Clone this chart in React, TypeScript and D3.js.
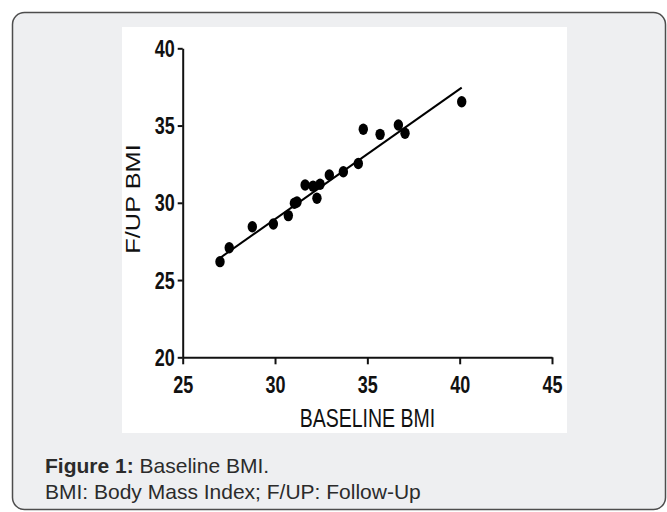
import React, { useEffect, useRef } from 'react';
import * as d3 from 'd3';

// Baseline vs follow-up BMI, one point per subject
const baselineBmi = [27.02, 27.52, 28.77, 29.91, 30.72, 31.05, 31.19, 31.63, 32.06, 32.27, 32.44, 32.94, 33.7, 34.51, 34.78, 35.69, 36.68, 37.04, 40.11];
const followUpBmi = [26.19, 27.09, 28.45, 28.63, 29.17, 29.97, 30.05, 31.15, 31.08, 30.29, 31.2, 31.8, 32.01, 32.54, 34.76, 34.43, 35.04, 34.5, 36.54];
const xTicks = [25, 30, 35, 40, 45];
const yTicks = [20, 25, 30, 35, 40];
// fitted regression line
const fitSlope = 0.842;
const fitIntercept = 3.68;

const xTitle = 'BASELINE BMI';
const yTitle = 'F/UP BMI';
const captionBold = 'Figure 1:';
const captionLine1 = ' Baseline BMI.';
const captionLine2 = 'BMI: Body Mass Index; F/UP: Follow-Up';

const W = 667;
const H = 512;
const STRETCH = 1.3; // the chart image is stretched vertically
const chartFont = '"Liberation Sans", Arial, sans-serif';

export default function App() {
    const svgRef = useRef<SVGSVGElement>(null);

    useEffect(() => {
        const svg = d3.select(svgRef.current);
        svg.selectAll('*').remove();

        // grey caption box
        svg.append('rect')
            .attr('x', 12.5)
            .attr('y', 12.5)
            .attr('width', 653)
            .attr('height', 497)
            .attr('rx', 12)
            .attr('fill', '#eeeff1')
            .attr('stroke', '#4d4d4d')
            .attr('stroke-width', 1.5);

        // white figure area
        svg.append('rect')
            .attr('x', 122)
            .attr('y', 27)
            .attr('width', 445)
            .attr('height', 406)
            .attr('fill', '#ffffff');

        const x = d3.scaleLinear().domain([25, 45]).range([182.7, 552]);
        const y = d3.scaleLinear().domain([20, 40]).range([357.3, 48.3]);

        const g = svg.append('g').style('font-family', chartFont);

        // y axis
        const yAxis = g.append('g')
            .attr('transform', 'translate(' + x(25) + ',0)')
            .call(d3.axisLeft(y).tickValues(yTicks).tickSize(5).tickSizeOuter(0).tickFormat(d3.format('d')));
        yAxis.select('.domain').attr('stroke', '#111').attr('stroke-width', 2);
        yAxis.selectAll('.tick line').attr('stroke', '#111').attr('stroke-width', 2);
        yAxis.selectAll('.tick text')
            .attr('x', -8)
            .attr('y', 0)
            .attr('dy', 0)
            .attr('transform', 'translate(0,8) scale(1,' + STRETCH + ')')
            .attr('fill', '#111')
            .style('font-size', '18px')
            .style('font-weight', 'bold')
            .style('font-family', chartFont);

        // x axis
        const xAxis = g.append('g')
            .attr('transform', 'translate(0,' + y(20) + ')')
            .call(d3.axisBottom(x).tickValues(xTicks).tickSize(7).tickSizeOuter(0).tickFormat(d3.format('d')));
        xAxis.select('.domain').attr('stroke', '#111').attr('stroke-width', 2);
        xAxis.selectAll('.tick line').attr('stroke', '#111').attr('stroke-width', 2);
        xAxis.selectAll('.tick text')
            .attr('y', 0)
            .attr('dy', 0)
            .attr('transform', 'translate(0,36) scale(1,' + STRETCH + ')')
            .attr('fill', '#111')
            .style('font-size', '18px')
            .style('font-weight', 'bold')
            .style('font-family', chartFont);

        // axis titles
        g.append('text')
            .attr('transform', 'translate(' + x(35) + ',427) scale(1,' + STRETCH + ')')
            .attr('text-anchor', 'middle')
            .attr('fill', '#111')
            .style('font-size', '19.5px')
            .text(xTitle);

        g.append('text')
            .attr('transform', 'translate(140,199) scale(1,' + STRETCH + ') rotate(-90)')
            .attr('text-anchor', 'middle')
            .attr('fill', '#111')
            .style('font-size', '19.5px')
            .text(yTitle);

        // regression line across the data range
        const [xMin, xMax] = d3.extent(baselineBmi) as [number, number];
        g.append('path')
            .datum([xMin, xMax])
            .attr('fill', 'none')
            .attr('stroke', '#000')
            .attr('stroke-width', 2)
            .attr(
                'd',
                d3
                    .line<number>()
                    .x((d) => x(d))
                    .y((d) => y(fitIntercept + fitSlope * d))
            );

        // points
        g.selectAll('ellipse.pt')
            .data(baselineBmi.map((b, i) => [b, followUpBmi[i]]))
            .enter()
            .append('ellipse')
            .attr('class', 'pt')
            .attr('cx', (d) => x(d[0]))
            .attr('cy', (d) => y(d[1]))
            .attr('rx', 4.7)
            .attr('ry', 5.7)
            .attr('fill', '#000');

        // caption
        const cap = svg.append('g')
            .style('font-family', '"Liberation Sans", Arial, sans-serif')
            .style('font-size', '21px')
            .attr('fill', '#2b2b2b');
        const l1 = cap.append('text').attr('x', 45).attr('y', 473);
        l1.append('tspan').style('font-weight', 'bold').text(captionBold);
        l1.append('tspan').text(captionLine1);
        cap.append('text').attr('x', 45).attr('y', 499).text(captionLine2);
    }, []);

    return (
        <svg
            ref={svgRef}
            width={W}
            height={H}
            style={{ position: 'absolute', left: 0, top: 0, display: 'block' }}
        />
    );
}
